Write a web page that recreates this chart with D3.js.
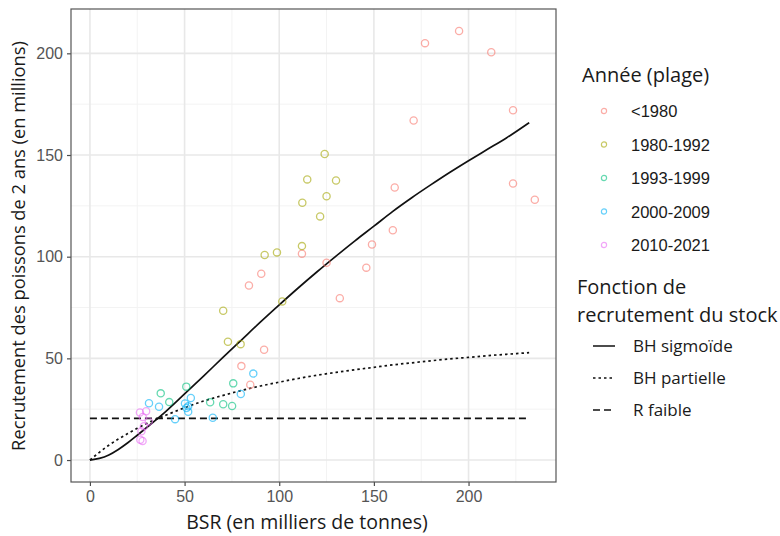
<!DOCTYPE html>
<html>
<head>
<meta charset="utf-8">
<script src="https://cdnjs.cloudflare.com/ajax/libs/d3/7.8.5/d3.min.js"></script>
<style>
  body { margin: 0; background: #fff; }
  svg { display: block; }
</style>
</head>
<body>
<div id="chart"></div>
<script>
// points: [BSR, recrutement]
var pre1980 = [[195, 211], [177, 205], [212, 200.5], [223.5, 172], [171, 167], [223.5, 136], [235, 128],
  [161, 134], [160, 113], [149, 106], [146, 94.6], [132, 79.6], [125, 97], [112, 101.5],
  [90.5, 91.6], [84, 85.8], [92, 54.2], [80, 46.2], [84.7, 37]];
var y1980 = [[124, 150.5], [114.8, 138], [130, 137.5], [112.2, 126.5], [125, 129.7], [121.6, 119.8],
  [112, 105.2], [98.8, 102.1], [92.3, 100.8], [101.6, 78], [70.4, 73.4], [72.9, 58.2], [79.6, 57]];
var y1993 = [[50.9, 36.1], [37.4, 32.8], [41.9, 28.5], [63.5, 28.4], [70.4, 27.4], [75.1, 26.6], [75.7, 37.7]];
var y2000 = [[86.3, 42.5], [79.7, 32.5], [64.9, 20.8], [53.3, 30.5], [50.2, 27.8], [51.9, 26.4],
  [51, 25.6], [51.9, 23.7], [45, 20.1], [36.5, 26.2], [31.2, 27.9]];
var y2010 = [[26.4, 23.4], [29.7, 24], [27.9, 21.2], [31.1, 19], [28.5, 16.6], [27.2, 14.1],
  [26.6, 10], [27.8, 9.4]];

var groupNames = ["<1980", "1980-1992", "1993-1999", "2000-2009", "2010-2021"];
var groupColors = ["#F8766D", "#A3A500", "#00BF7D", "#00B0F6", "#E76BF3"];
var groups = [pre1980, y1980, y1993, y2000, y2010];

// stock-recruitment curves
var curveX = [0, 5, 10, 15, 20, 25, 30, 40, 50, 60, 70, 80, 90, 100, 110, 120, 130, 140, 150,
  160, 170, 180, 190, 200, 210, 220, 232];
var bhSigmoid = [0, 0.8, 2.5, 5.2, 8.5, 12.2, 16, 23.8, 32.5, 41.3, 50.2, 59, 67.8, 76.3, 84.6,
  92.6, 100.3, 107.8, 115, 122.3, 129, 135.3, 141.4, 147.2, 152.8, 158.4, 165.9];
var bhPartial = [0, 3.8, 7.3, 10.3, 13, 15.6, 18, 22, 25.7, 29, 31.7, 34.2, 36.4, 38.3, 40.1,
  41.7, 43.1, 44.4, 45.6, 46.8, 47.8, 48.8, 49.7, 50.5, 51.3, 52, 52.8];
var rLow = [20.5, 20.5];
var rLowX = [0, 232];

var lineNames = ["BH sigmoïde", "BH partielle", "R faible"];
var lineDash = [null, "2.5,3", "7,4"];

var xTicks = [0, 50, 100, 150, 200];
var yTicks = [0, 50, 100, 150, 200];
var xMinor = [25, 75, 125, 175, 225];
var yMinor = [25, 75, 125, 175];

var width = 780, height = 536;
var panel = {left: 71, right: 556, top: 9, bottom: 482};

var svg = d3.select("#chart").append("svg")
  .attr("width", width)
  .attr("height", height);

var x = d3.scaleLinear().domain([-10, 246.2]).range([panel.left, panel.right]);
var y = d3.scaleLinear().domain([-10.8, 221.8]).range([panel.bottom, panel.top]);

// grid
var grid = svg.append("g");
grid.selectAll(".vminor").data(xMinor).enter().append("line")
  .attr("x1", function (d) { return x(d); }).attr("x2", function (d) { return x(d); })
  .attr("y1", panel.top).attr("y2", panel.bottom)
  .style("stroke", "#f3f3f3").style("stroke-width", 1);
grid.selectAll(".hminor").data(yMinor).enter().append("line")
  .attr("y1", function (d) { return y(d); }).attr("y2", function (d) { return y(d); })
  .attr("x1", panel.left).attr("x2", panel.right)
  .style("stroke", "#f3f3f3").style("stroke-width", 1);
grid.selectAll(".vmajor").data(xTicks).enter().append("line")
  .attr("x1", function (d) { return x(d); }).attr("x2", function (d) { return x(d); })
  .attr("y1", panel.top).attr("y2", panel.bottom)
  .style("stroke", "#e8e8e8").style("stroke-width", 1.6);
grid.selectAll(".hmajor").data(yTicks).enter().append("line")
  .attr("y1", function (d) { return y(d); }).attr("y2", function (d) { return y(d); })
  .attr("x1", panel.left).attr("x2", panel.right)
  .style("stroke", "#e8e8e8").style("stroke-width", 1.6);

// axes
var xAxis = svg.append("g")
  .attr("transform", "translate(0," + panel.bottom + ")")
  .call(d3.axisBottom(x).tickValues(xTicks).tickSize(4).tickPadding(5));
var yAxis = svg.append("g")
  .attr("transform", "translate(" + panel.left + ",0)")
  .call(d3.axisLeft(y).tickValues(yTicks).tickSize(4).tickPadding(4));
[xAxis, yAxis].forEach(function (a) {
  a.select(".domain").remove();
  a.selectAll(".tick line").style("stroke", "#4d4d4d").style("stroke-width", 1.2);
  a.selectAll(".tick text")
    .style("fill", "#555")
    .style("font-family", "'Liberation Sans', Arial, sans-serif")
    .style("font-size", "16px");
});

// curves
var line = d3.line()
  .x(function (d) { return x(d[0]); })
  .y(function (d) { return y(d[1]); })
  .curve(d3.curveMonotoneX);

var curves = [
  d3.zip(curveX, bhSigmoid),
  d3.zip(curveX, bhPartial),
  d3.zip(rLowX, rLow)
];
svg.append("g").selectAll("path").data(curves).enter().append("path")
  .attr("d", line)
  .style("fill", "none")
  .style("stroke", "#111")
  .style("stroke-width", 1.7)
  .style("stroke-dasharray", function (d, i) { return lineDash[i]; });

// points
groups.forEach(function (pts, gi) {
  svg.append("g").selectAll("circle").data(pts).enter().append("circle")
    .attr("cx", function (d) { return x(d[0]); })
    .attr("cy", function (d) { return y(d[1]); })
    .attr("r", 3.6)
    .style("fill", "none")
    .style("stroke", groupColors[gi])
    .style("stroke-width", 1.3)
    .style("opacity", 0.6);
});

// panel border
svg.append("rect")
  .attr("x", panel.left).attr("y", panel.top)
  .attr("width", panel.right - panel.left).attr("height", panel.bottom - panel.top)
  .style("fill", "none").style("stroke", "#555").style("stroke-width", 1.2);

// axis titles
var titleFont = "'Open Sans', 'Noto Sans', sans-serif";
svg.append("text")
  .attr("x", 307).attr("y", 529)
  .attr("text-anchor", "middle")
  .style("font-family", titleFont).style("font-size", "19.5px").style("fill", "#1a1a1a")
  .text("BSR (en milliers de tonnes)");
svg.append("text")
  .attr("transform", "translate(25,246) rotate(-90)")
  .attr("text-anchor", "middle")
  .style("font-family", titleFont).style("font-size", "18.3px").style("fill", "#1a1a1a")
  .text("Recrutement des poissons de 2 ans (en millions)");

// legend: years
var leg = svg.append("g");
leg.append("text").attr("x", 582).attr("y", 82)
  .style("font-family", titleFont).style("font-size", "20px").style("fill", "#1a1a1a")
  .text("Année (plage)");
var items = leg.selectAll(".item").data(groupNames).enter().append("g")
  .attr("transform", function (d, i) { return "translate(0," + (111 + i * 33.5) + ")"; });
items.append("circle").attr("cx", 604).attr("cy", 0).attr("r", 2.6)
  .style("fill", "none").style("stroke-width", 1.2).style("opacity", 0.6)
  .style("stroke", function (d, i) { return groupColors[i]; });
items.append("text").attr("x", 631).attr("y", 6)
  .style("font-family", "'Liberation Sans', Arial, sans-serif").style("font-size", "16.5px")
  .style("fill", "#1a1a1a")
  .text(function (d) { return d; });

// legend: curves
leg.append("text").attr("x", 577).attr("y", 294)
  .style("font-family", titleFont).style("font-size", "20px").style("fill", "#1a1a1a")
  .text("Fonction de");
leg.append("text").attr("x", 577).attr("y", 322)
  .style("font-family", titleFont).style("font-size", "20px").style("fill", "#1a1a1a")
  .text("recrutement du stock");
var litems = leg.selectAll(".litem").data(lineNames).enter().append("g")
  .attr("transform", function (d, i) { return "translate(0," + (346 + i * 32) + ")"; });
litems.append("line").attr("x1", 593).attr("x2", 615).attr("y1", 0).attr("y2", 0)
  .style("stroke", "#111").style("stroke-width", 1.5)
  .style("stroke-dasharray", function (d, i) { return lineDash[i]; });
litems.append("text").attr("x", 633).attr("y", 6)
  .style("font-family", titleFont).style("font-size", "17px").style("fill", "#1a1a1a")
  .text(function (d) { return d; });
</script>
</body>
</html>
